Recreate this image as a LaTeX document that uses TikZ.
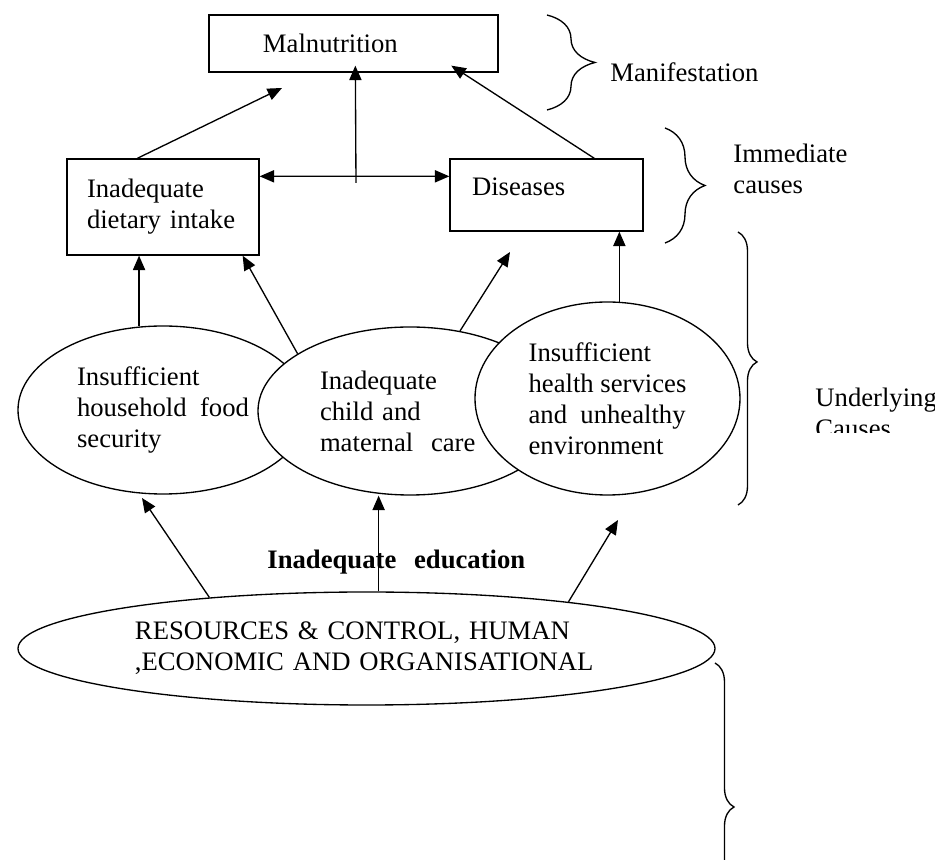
\documentclass[tikz,border=0pt]{standalone}
\usepackage{fontspec}
\setmainfont{Liberation Serif}
\usetikzlibrary{shapes.geometric,arrows.meta,calc,decorations.pathreplacing}

\tikzset{box/.style={draw, rectangle, line width=0.6pt, align=left},
    oval/.style={draw, ellipse, fill=white, line width=0.6pt, align=left, inner sep=0pt},
    tag/.style={inner sep=0pt, align=left},
    link/.style={->, line width=0.6pt},
    curly/.style={decorate, decoration={brace, amplitude=#1}, line width=0.6pt}}

\begin{document}
\begin{tikzpicture}[x=0.45pt, y=-0.45pt, font=\fontsize{12pt}{14pt}\selectfont,
    >={Triangle[length=6.5pt, width=5.5pt]}]
    \useasboundingbox (0,0) rectangle (935,860);

    \node[box, minimum width=130.05pt, minimum height=25.65pt,
          text width=81.45pt, inner xsep=24.3pt] (malnut) at (353.5,43.5) {Malnutrition};
    \node[box, minimum width=86.4pt, minimum height=43.2pt,
          text width=68.4pt, inner xsep=9pt] (diet) at (163,207) {Inadequate\\dietary intake};
    \node[box, minimum width=86.85pt, minimum height=32.4pt, text height=8pt, text depth=7.5pt,
          text width=67.05pt, inner xsep=9.9pt] (dis) at (546.5,195) {Diseases};

    \node[oval, minimum width=130.5pt, minimum height=75.6pt]
        (food) at (163,410) {Insufficient\\household\ \ food\\security};
    \node[oval, minimum width=136.8pt, minimum height=75.6pt, text width=81pt]
        (care) at (410,411) {Inadequate\\child and\\maternal\ \ care};
    \node[oval, minimum width=119.25pt, minimum height=86.85pt]
        (health) at (607.5,398.5) {Insufficient\\health services\\and\ \ unhealthy\\environment};
    \node[oval, minimum width=313.65pt, minimum height=50.85pt, text width=208.35pt]
        (res) at (366.5,648.5) {RESOURCES \& CONTROL, HUMAN\\,ECONOMIC AND ORGANISATIONAL};

    \node[tag, anchor=west] (educ) at (267,562) {\textbf{Inadequate\hspace{8pt}education}};

    \coordinate (midfoot) at (356,183);
    \coordinate (tipleft) at (282,88);
    \coordinate (tipdis) at (510,252);
    \coordinate (tipfood) at (142,498);
    \coordinate (tiphealth) at (618,520);

    \draw[link] ($(diet.north west)+(71,0)$) -- (tipleft);
    \draw[link] (midfoot) -- ($(malnut.south west)+(147,-7)$);
    \draw[link] ($(dis.north west)+(145,0)$) -- ($(malnut.south west)+(243,-7)$);
    \draw[<->, line width=0.6pt] ($(diet.north east)+(0,18)$) -- ($(dis.north west)+(0,18)$);

    \draw[link] (food.106) -- (food.106 |- diet.south);
    \draw[link] (care.153) -- ($(diet.south east)+(-17,0)$);
    \draw[link] (care.58) -- (tipdis);
    \draw[link] (health.83) -- (health.83 |- dis.south);

    \draw[link] (res.162) -- (tipfood);
    \draw[link] (res.78) -- (res.78 |- care.south);
    \draw[link] (res.13) -- (tiphealth);

    \draw[curly=21.6pt] (547,15) -- (547,110);
    \draw[curly=18pt] (665,128) -- (665,243);
    \draw[curly=8.55pt, decoration={aspect=0.476}] (738,232) -- (738,505);
    \draw[curly=8.55pt] (715,663) -- (715,951);

    \node[tag, anchor=west] (manif) at (610,72) {Manifestation};
    \node[tag, anchor=west] (immed) at (733,169) {Immediate\\causes};
    \begin{scope}
        \clip (800,370) rectangle (935,433);
        \node[tag, anchor=west] (under) at (815,413) {Underlying\\Causes};
    \end{scope}
\end{tikzpicture}
\end{document}
